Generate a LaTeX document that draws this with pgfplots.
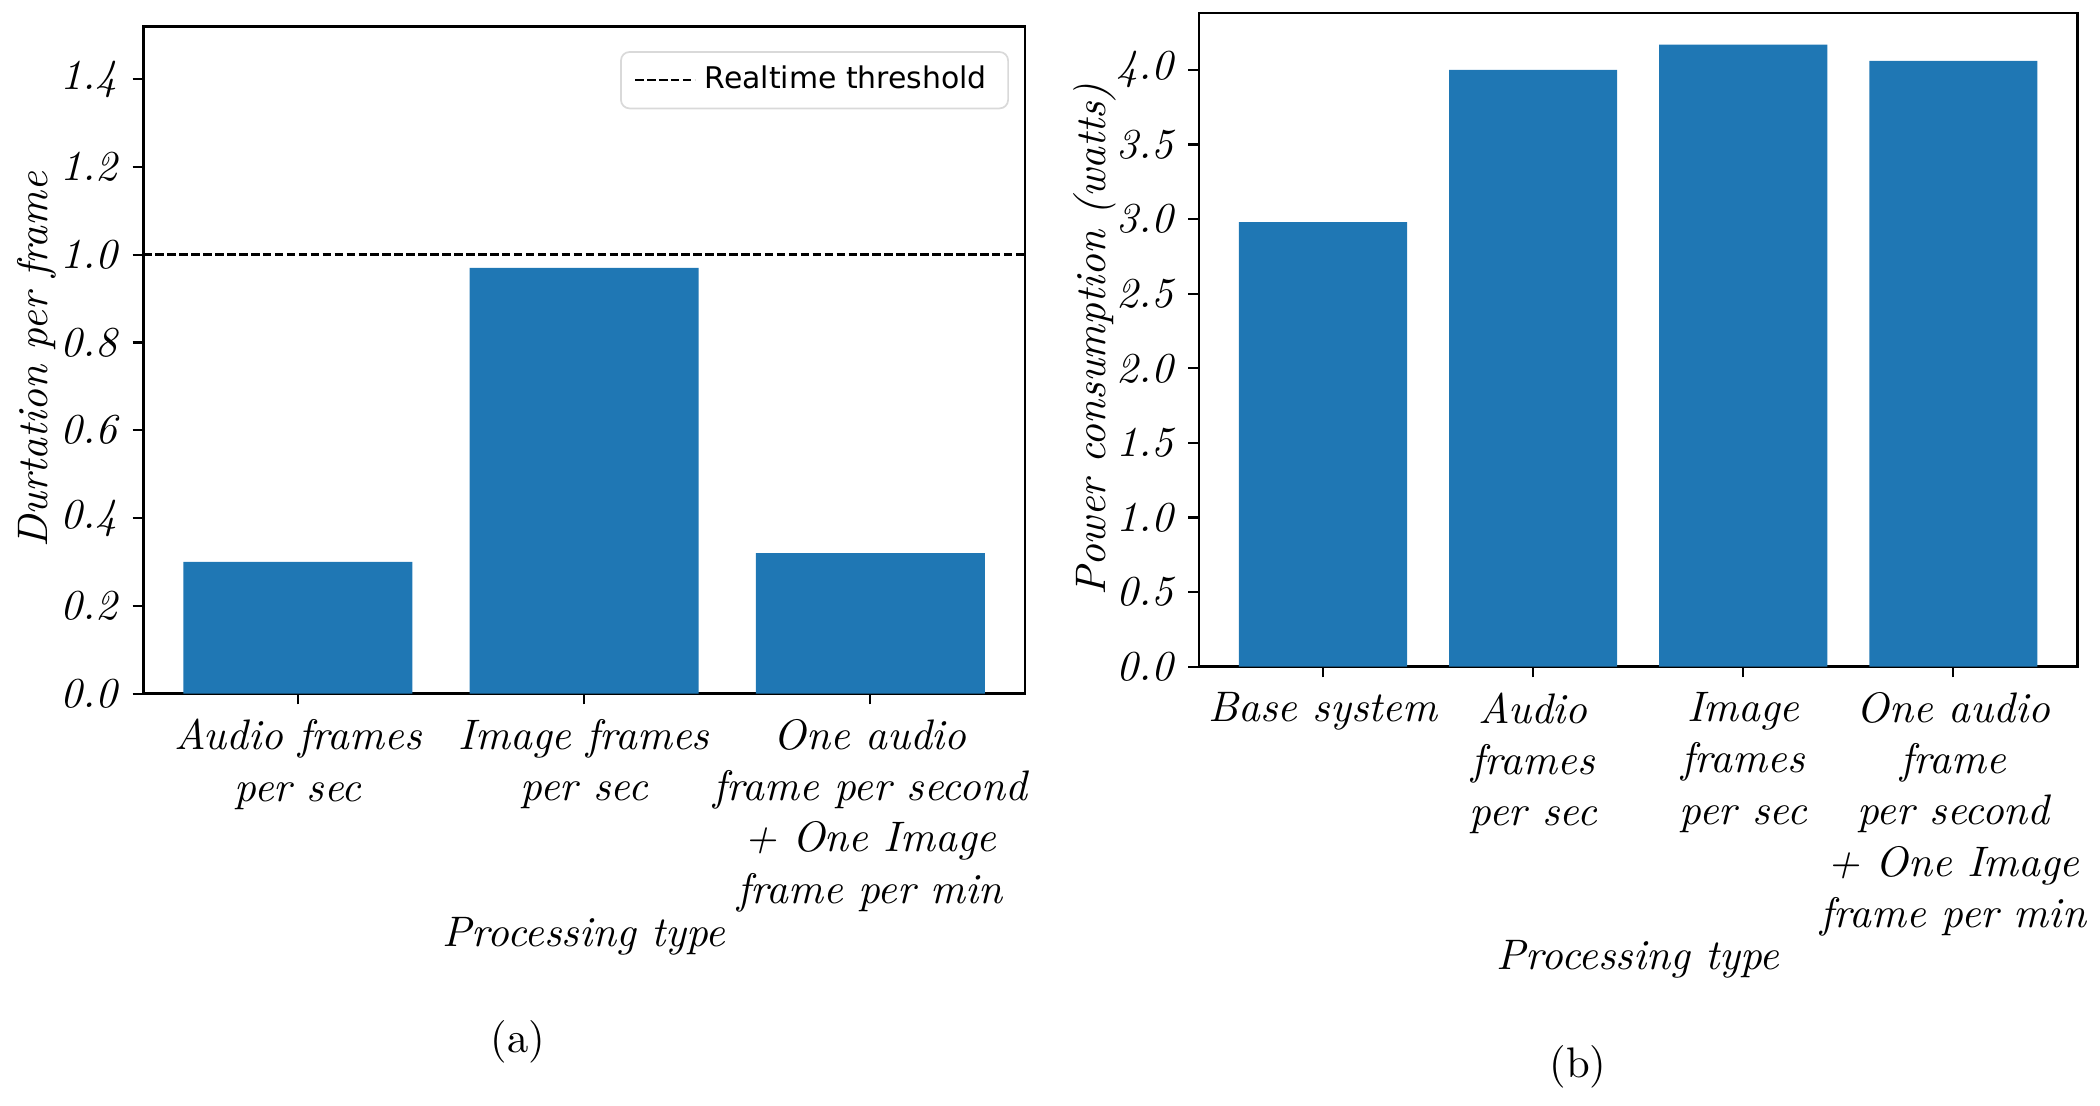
\documentclass[border=0pt]{standalone}
\usepackage{fontspec}
\newfontfamily\dejavu{DejaVu Sans}
\usepackage{pgfplots}
\pgfplotsset{compat=1.18}
\definecolor{mplblue}{HTML}{1F77B4}
\pgfplotsset{
 mystyle/.style={
  scale only axis,
  anchor=south west,
  axis line style={line width=0.6pt},
  tick align=outside, tick pos=left,
  major tick length=2.5pt,
  tick style={black, line width=0.5pt},
  /pgf/number format/assume math mode=true,
  yticklabel style={font=\itshape, /pgf/number format/.cd, fixed, fixed zerofill, precision=1},
  xticklabel style={align=center, font=\itshape},
  label style={font=\itshape},
  ymin=0,
 }
}
\begin{document}
\begin{tikzpicture}
\path[use as bounding box] (0,0) rectangle (492pt,259.1pt);
\begin{axis}[mystyle, at={(33.6pt,96.6pt)}, width=206.5pt, height=156.3pt,
 xmin=-0.54, xmax=2.54, ymax=1.52,
 ytick={0,0.2,0.4,0.6,0.8,1.0,1.2,1.4}, xtick={0,1,2},
 xticklabels={{Audio frames\\per sec},{Image frames\\per sec},{One audio\\frame per second\\+ One Image\\frame per min}},
 xlabel={Processing type}, ylabel={Durtation per frame},
 xlabel style={at={(axis description cs:0.5,-0.364)}, anchor=center},
 ylabel style={at={(axis description cs:-0.121,0.5)}, anchor=center},
 legend style={at={(axis description cs:0.982,0.963)}, anchor=north east, draw=black!15, rounded corners=2pt, font=\dejavu\fontsize{7pt}{8pt}\selectfont, inner xsep=3pt, inner ysep=1.2pt},
 legend cell align=left,
 legend image code/.code={\draw[#1] (0pt,0pt) -- (14pt,0pt);},
]
\addplot[ybar, bar width=0.8, fill=mplblue, draw=none, forget plot] coordinates {(0,0.30) (1,0.97) (2,0.32)};
\addplot[black, line width=0.6pt, dash pattern=on 2pt off 0.8pt] coordinates {(-0.54,1) (2.54,1)};
\addlegendentry{Realtime threshold}
\end{axis}
\begin{axis}[mystyle, at={(280.9pt,102.9pt)}, width=205.8pt, height=153.1pt,
 xmin=-0.59, xmax=3.59, ymax=4.38,
 ytick={0,0.5,1.0,1.5,2.0,2.5,3.0,3.5,4.0}, xtick={0,1,2,3},
 xticklabels={{Base system},{Audio\\frames\\per sec},{Image\\frames\\per sec},{One audio\\frame\\per second\\+ One Image\\frame per min}},
 xlabel={Processing type}, ylabel={Power consumption (watts)},
 xlabel style={at={(axis description cs:0.5,-0.448)}, anchor=center},
 ylabel style={at={(axis description cs:-0.119,0.5)}, anchor=center},
]
\addplot[ybar, bar width=0.8, fill=mplblue, draw=none] coordinates {(0,2.98) (1,4.00) (2,4.17) (3,4.06)};
\end{axis}
\node[font=\fontsize{10pt}{12pt}\selectfont] at (121.4pt,15.0pt) {(a)};
\node[font=\fontsize{10pt}{12pt}\selectfont] at (369.7pt,9.1pt) {(b)};
\end{tikzpicture}
\end{document}
